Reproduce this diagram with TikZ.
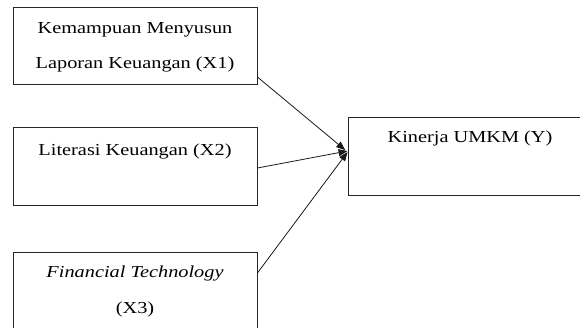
\documentclass[tikz,border=0pt]{standalone}
\usepackage{fontspec}
\setmainfont{Liberation Serif}
\usetikzlibrary{arrows.meta}
\begin{document}
\begin{tikzpicture}[x=1pt,y=-1pt,
  box/.style={draw=black!85, line width=0.9pt, minimum width=244pt, inner sep=0pt},
  txt/.style={font=\fontsize{16.8}{16.8}\selectfont, xscale=1.21, inner sep=0pt, anchor=base, text=black},
  conn/.style={line width=0.8pt, black!90, -{Triangle[length=9pt,width=7pt]}}]
\useasboundingbox (0,0) rectangle (580,328);
\clip (0,0) rectangle (580,328);
% boxes
\node[box, minimum height=77pt] (b1) at (135,45.5) {};
\node[box, minimum height=78pt] (b2) at (135,166) {};
\node[box, minimum height=88pt] (b3) at (135,296) {};
\node[box, minimum height=78pt] (by) at (470,156) {};
% texts
\node[txt] (t1a) at (135,33.3) {Kemampuan Menyusun};
\node[txt] (t1b) at (135,68.5) {Laporan Keuangan (X1)};
\node[txt] (t2) at (135,156) {Literasi Keuangan (X2)};
\node[txt] (t3a) at (135,277.3) {\itshape Financial Technology};
\node[txt] (t3b) at (135,313.3) {(X3)};
\node[txt] (ty) at (470,142.7) {Kinerja UMKM (Y)};
% connectors
\draw[conn, shorten >=3pt] ([yshift=-31.5pt]b1.east) -- ([yshift=4pt]by.west);
\draw[conn] ([yshift=-2pt]b2.east) -- ([yshift=5pt]by.west);
\draw[conn] ([yshift=23pt]b3.east) -- ([yshift=4pt]by.west);
\end{tikzpicture}
\end{document}
